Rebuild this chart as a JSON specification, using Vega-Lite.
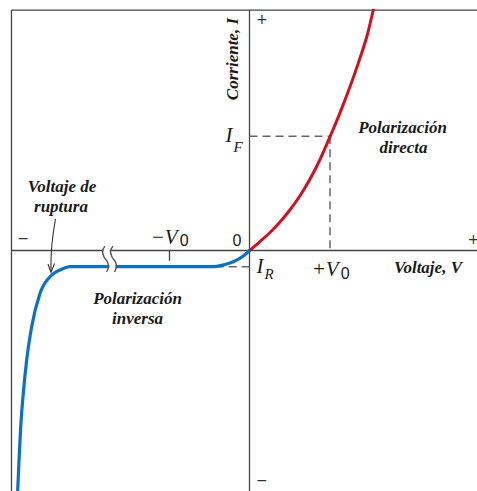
{
  "$schema": "https://vega.github.io/schema/vega-lite/v6.json",
  "width": 477,
  "height": 491,
  "padding": 0,
  "autosize": {"type": "none"},
  "background": "white",
  "config": {"view": {"stroke": null}},
  "datasets": {
    "solidRules": [
      {"V": -2.957, "I": 2.1, "V2": 2.83, "I2": 2.1},
      {"V": -2.957, "I": 2.1, "V2": -2.957, "I2": -2.11},
      {"V": -2.957, "I": 0, "V2": 2.83, "I2": 0},
      {"V": 0, "I": 2.1, "V2": 0, "I2": -2.11},
      {"V": -0.994, "I": 0, "V2": -0.994, "I2": -0.09}
    ],
    "dashedRules": [
      {"V": 0, "I": 0.997, "V2": 1.0, "I2": 0.997},
      {"V": 1.0, "I": 0.997, "V2": 1.0, "I2": 0},
      {"V": -0.42, "I": -0.1415, "V2": 0, "I2": -0.1415}
    ],
    "reverse": [
      {"V": -2.88, "I": -2.1},
      {"V": -2.863, "I": -1.83},
      {"V": -2.842, "I": -1.539},
      {"V": -2.81, "I": -1.247},
      {"V": -2.768, "I": -0.956},
      {"V": -2.706, "I": -0.666},
      {"V": -2.602, "I": -0.374},
      {"V": -2.457, "I": -0.214},
      {"V": -2.354, "I": -0.17},
      {"V": -2.28, "I": -0.148},
      {"V": -2.23, "I": -0.1415},
      {"V": -0.45, "I": -0.1415},
      {"V": -0.407, "I": -0.138},
      {"V": -0.304, "I": -0.122},
      {"V": -0.201, "I": -0.098},
      {"V": -0.077, "I": -0.048},
      {"V": 0, "I": 0}
    ],
    "forward": [
      {"V": 0, "I": 0},
      {"V": 0.124, "I": 0.0742},
      {"V": 0.248, "I": 0.1528},
      {"V": 0.373, "I": 0.2445},
      {"V": 0.497, "I": 0.3493},
      {"V": 0.621, "I": 0.4716},
      {"V": 0.745, "I": 0.6157},
      {"V": 0.87, "I": 0.786},
      {"V": 1.012, "I": 1.0131},
      {"V": 1.118, "I": 1.1913},
      {"V": 1.242, "I": 1.4183},
      {"V": 1.366, "I": 1.6672},
      {"V": 1.466, "I": 1.8908},
      {"V": 1.54, "I": 2.109}
    ],
    "breakGap": [
      {"k": 0, "V": -1.745, "I": 0.039},
      {"k": 1, "V": -1.776, "I": -0.004},
      {"k": 2, "V": -1.757, "I": -0.057},
      {"k": 3, "V": -1.714, "I": -0.1},
      {"k": 4, "V": -1.702, "I": -0.144},
      {"k": 5, "V": -1.726, "I": -0.188}
    ],
    "breakMarks": [
      {"m": "a", "k": 0, "V": -1.795, "I": 0.039},
      {"m": "a", "k": 1, "V": -1.826, "I": -0.004},
      {"m": "a", "k": 2, "V": -1.807, "I": -0.057},
      {"m": "a", "k": 3, "V": -1.764, "I": -0.1},
      {"m": "a", "k": 4, "V": -1.752, "I": -0.144},
      {"m": "a", "k": 5, "V": -1.776, "I": -0.188},
      {"m": "b", "k": 0, "V": -1.696, "I": 0.039},
      {"m": "b", "k": 1, "V": -1.727, "I": -0.004},
      {"m": "b", "k": 2, "V": -1.708, "I": -0.057},
      {"m": "b", "k": 3, "V": -1.665, "I": -0.1},
      {"m": "b", "k": 4, "V": -1.653, "I": -0.144},
      {"m": "b", "k": 5, "V": -1.677, "I": -0.188}
    ],
    "arrowShaft": [
      {"k": 0, "V": -2.41, "I": 0.275},
      {"k": 1, "V": -2.441, "I": 0.135},
      {"k": 2, "V": -2.46, "I": 0.004},
      {"k": 3, "V": -2.466, "I": -0.1},
      {"k": 4, "V": -2.466, "I": -0.179}
    ],
    "arrowHead": [
      {"k": 0, "V": -2.503, "I": -0.118},
      {"k": 1, "V": -2.466, "I": -0.192},
      {"k": 2, "V": -2.422, "I": -0.114}
    ],
    "captions": [
      {"V": 1.901, "I": 1.066, "t": "Polarización"},
      {"V": 1.913, "I": 0.895, "t": "directa"},
      {"V": -2.329, "I": 0.555, "t": "Voltaje de"},
      {"V": -2.342, "I": 0.38, "t": "ruptura"},
      {"V": -1.391, "I": -0.424, "t": "Polarización"},
      {"V": -1.391, "I": -0.594, "t": "inversa"},
      {"V": 2.217, "I": -0.157, "t": "Voltaje, V"}
    ],
    "axisTitle": [
      {"V": -0.205, "I": 1.672, "t": "Corriente, I"}
    ],
    "symbols": [
      {"V": -0.255, "I": 0.996, "t": "I"},
      {"V": 0.13, "I": -0.14, "t": "I"},
      {"V": -1.06, "I": 0.105, "t": "−V"},
      {"V": 0.94, "I": -0.166, "t": "+V"}
    ],
    "subscripts": [
      {"V": -0.143, "I": 0.9, "t": "F"},
      {"V": 0.242, "I": -0.201, "t": "R"}
    ],
    "digits": [
      {"V": -0.155, "I": 0.083, "t": "0"},
      {"V": -0.81, "I": 0.083, "t": "0"},
      {"V": 1.19, "I": -0.201, "t": "0"}
    ],
    "signs": [
      {"V": 0.152, "I": 2.013, "t": "+"},
      {"V": 0.152, "I": -2.01, "t": "−"},
      {"V": -2.81, "I": 0.098, "t": "−"},
      {"V": 2.78, "I": 0.092, "t": "+"}
    ]
  },
  "encoding": {
    "x": {"field": "V", "type": "quantitative", "axis": null,
          "scale": {"domain": [-3.0994, 2.8261], "nice": false, "zero": false}},
    "y": {"field": "I", "type": "quantitative", "axis": null,
          "scale": {"domain": [-2.1004, 2.1878], "nice": false, "zero": false}}
  },
  "layer": [
    {
      "data": {"name": "solidRules"},
      "mark": {"type": "rule", "color": "#444444", "strokeWidth": 1.3},
      "encoding": {"x2": {"field": "V2"}, "y2": {"field": "I2"}}
    },
    {
      "data": {"name": "dashedRules"},
      "mark": {"type": "rule", "color": "#666666", "strokeWidth": 1.5, "strokeDash": [8, 5]},
      "encoding": {"x2": {"field": "V2"}, "y2": {"field": "I2"}}
    },
    {
      "data": {"name": "reverse"},
      "mark": {"type": "line", "color": "#0a72c2", "strokeWidth": 3.2, "interpolate": "monotone", "strokeCap": "round"},
      "encoding": {}
    },
    {
      "data": {"name": "forward"},
      "mark": {"type": "line", "color": "#d2101e", "strokeWidth": 3, "interpolate": "monotone", "strokeCap": "butt"},
      "encoding": {}
    },
    {
      "data": {"name": "breakGap"},
      "mark": {"type": "line", "color": "white", "strokeWidth": 6, "interpolate": "catmull-rom"},
      "encoding": {"order": {"field": "k"}}
    },
    {
      "data": {"name": "breakMarks"},
      "mark": {"type": "line", "color": "#555555", "strokeWidth": 1.4, "interpolate": "catmull-rom"},
      "encoding": {"detail": {"field": "m"}, "order": {"field": "k"}}
    },
    {
      "data": {"name": "arrowShaft"},
      "mark": {"type": "line", "color": "#333333", "strokeWidth": 1.1, "interpolate": "catmull-rom"},
      "encoding": {"order": {"field": "k"}}
    },
    {
      "data": {"name": "arrowHead"},
      "mark": {"type": "line", "color": "#333333", "strokeWidth": 1.1},
      "encoding": {"order": {"field": "k"}}
    },
    {
      "data": {"name": "captions"},
      "mark": {"type": "text", "font": "Liberation Serif", "fontStyle": "italic", "fontWeight": "bold",
               "fontSize": 17, "align": "center", "baseline": "middle", "color": "#1a1a1a"},
      "encoding": {"text": {"field": "t"}}
    },
    {
      "data": {"name": "axisTitle"},
      "mark": {"type": "text", "font": "Liberation Serif", "fontStyle": "italic", "fontWeight": "bold",
               "fontSize": 17, "align": "center", "baseline": "middle", "angle": 270, "color": "#1a1a1a"},
      "encoding": {"text": {"field": "t"}}
    },
    {
      "data": {"name": "symbols"},
      "mark": {"type": "text", "font": "Liberation Serif", "fontStyle": "italic",
               "fontSize": 21, "align": "center", "baseline": "middle", "color": "#1a1a1a"},
      "encoding": {"text": {"field": "t"}}
    },
    {
      "data": {"name": "subscripts"},
      "mark": {"type": "text", "font": "Liberation Serif", "fontStyle": "italic",
               "fontSize": 15, "align": "center", "baseline": "middle", "color": "#1a1a1a"},
      "encoding": {"text": {"field": "t"}}
    },
    {
      "data": {"name": "digits"},
      "mark": {"type": "text", "font": "Liberation Sans",
               "fontSize": 16, "align": "center", "baseline": "middle", "color": "#1a1a1a"},
      "encoding": {"text": {"field": "t"}}
    },
    {
      "data": {"name": "signs"},
      "mark": {"type": "text", "font": "DejaVu Sans",
               "fontSize": 14, "align": "center", "baseline": "middle", "color": "#333333"},
      "encoding": {"text": {"field": "t"}}
    }
  ]
}
